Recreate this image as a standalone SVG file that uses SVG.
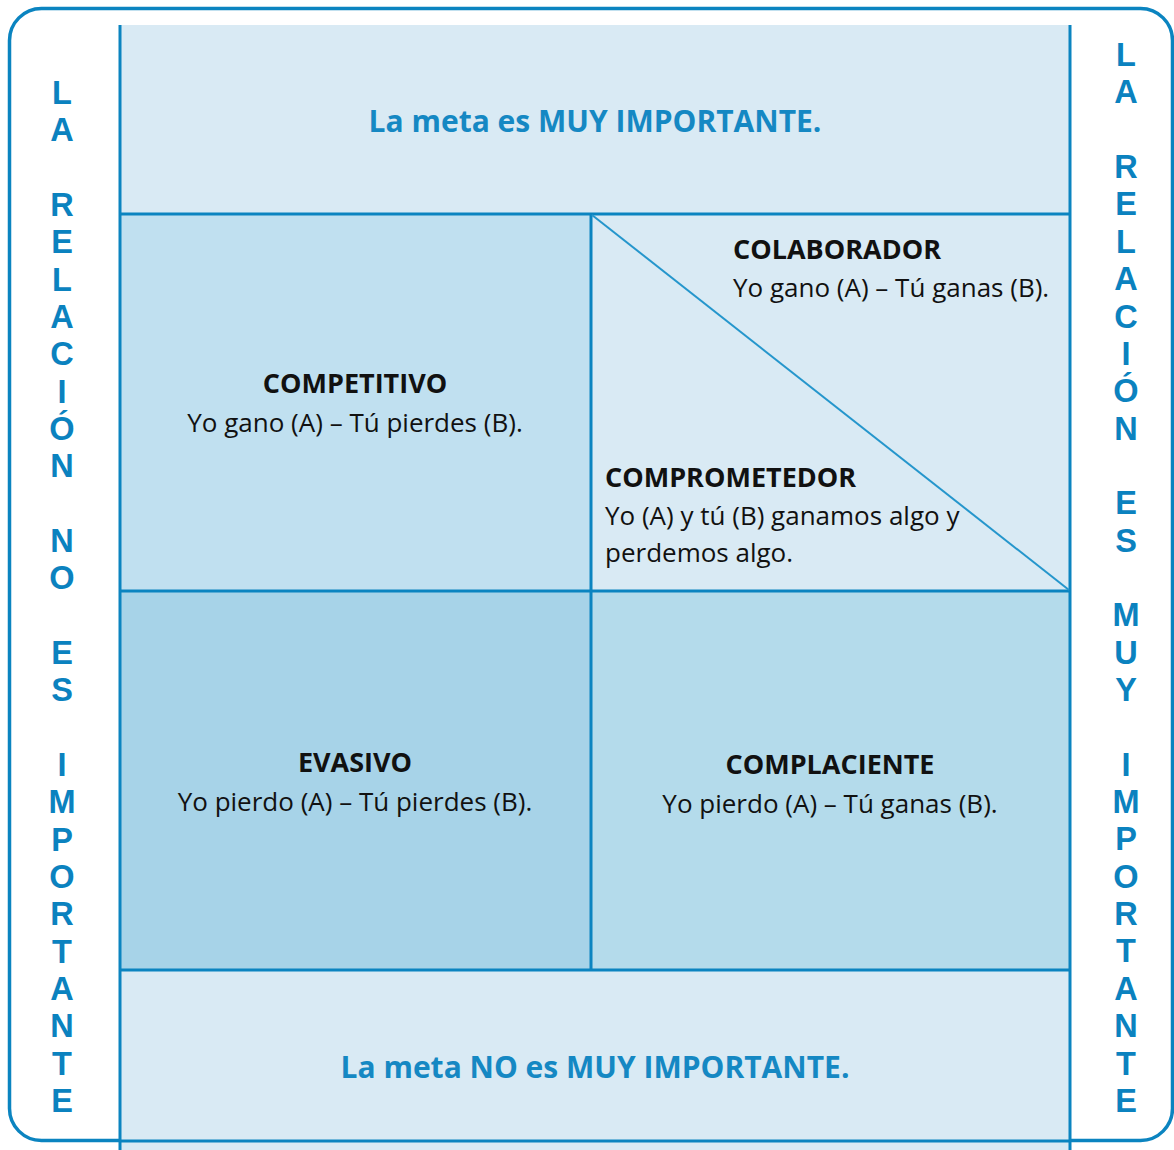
<svg xmlns="http://www.w3.org/2000/svg" width="1174" height="1150" viewBox="0 0 1174 1150">
<style>
.ttl{font-family:"Open Sans","Noto Sans",sans-serif;font-weight:700;font-size:30px;fill:#1588c3;text-anchor:middle}
.hd{font-family:"Open Sans","Noto Sans",sans-serif;font-weight:700;font-size:27px;fill:#111}
.tx{font-family:"Open Sans","Noto Sans",sans-serif;font-weight:400;font-size:26px;fill:#111}
.mid{text-anchor:middle}
.vl{font-family:"Liberation Sans",Arial,sans-serif;font-weight:700;font-size:32.5px;fill:#0b82bf;text-anchor:middle}
.ln{stroke:#0b84c0;stroke-width:3;fill:none}
</style>
<rect width="1174" height="1150" fill="#ffffff"/>
<rect x="9.5" y="8.5" width="1163" height="1132" rx="32" fill="none" stroke="#0b84c0" stroke-width="3.5"/>
<g id="top-cell">
<rect x="120" y="25" width="950" height="189" fill="#d9eaf4"/>
<text class="ttl" x="595" y="132">La meta es MUY IMPORTANTE.</text>
</g>
<g id="competitivo">
<rect x="120" y="214" width="471" height="377" fill="#c0e0f0"/>
<text class="hd mid" x="355" y="393">COMPETITIVO</text>
<text class="tx mid" x="355" y="432">Yo gano (A) – Tú pierdes (B).</text>
</g>
<g id="colaborador">
<rect x="591" y="214" width="479" height="377" fill="#d9eaf4"/>
<text class="hd" x="733" y="259">COLABORADOR</text>
<text class="tx" x="733" y="297">Yo gano (A) – Tú ganas (B).</text>
</g>
<g id="comprometedor">
<text class="hd" x="605" y="487">COMPROMETEDOR</text>
<text class="tx" x="605" y="525">Yo (A) y tú (B) ganamos algo y</text>
<text class="tx" x="605" y="562">perdemos algo.</text>
</g>
<g id="evasivo">
<rect x="120" y="591" width="471" height="379" fill="#a7d3e8"/>
<text class="hd mid" x="355" y="772">EVASIVO</text>
<text class="tx mid" x="355" y="811">Yo pierdo (A) – Tú pierdes (B).</text>
</g>
<g id="complaciente">
<rect x="591" y="591" width="479" height="379" fill="#b4dbeb"/>
<text class="hd mid" x="830" y="774">COMPLACIENTE</text>
<text class="tx mid" x="830" y="813">Yo pierdo (A) – Tú ganas (B).</text>
</g>
<g id="bottom-cell">
<rect x="120" y="970" width="950" height="180" fill="#d9eaf4"/>
<text class="ttl" x="595" y="1078">La meta NO es MUY IMPORTANTE.</text>
</g>
<g id="connectors">
<line class="ln" x1="120" y1="214" x2="1070" y2="214"/>
<line class="ln" x1="120" y1="591" x2="1070" y2="591"/>
<line class="ln" x1="120" y1="970" x2="1070" y2="970"/>
<line class="ln" x1="120" y1="1141" x2="1070" y2="1141"/>
<line class="ln" x1="120" y1="25" x2="120" y2="1150"/>
<line class="ln" x1="1070" y1="25" x2="1070" y2="1150"/>
<line class="ln" x1="591" y1="214" x2="591" y2="970"/>
<line x1="592" y1="215" x2="1069" y2="590" stroke="#2596cc" stroke-width="2"/>
</g>
<g id="left-label">
<text class="vl"><tspan x="62" y="104">L</tspan><tspan x="62" y="141.3">A</tspan><tspan x="62" y="216">R</tspan><tspan x="62" y="253.3">E</tspan><tspan x="62" y="290.7">L</tspan><tspan x="62" y="328">A</tspan><tspan x="62" y="365.3">C</tspan><tspan x="62" y="402.7">I</tspan><tspan x="62" y="440">Ó</tspan><tspan x="62" y="477.3">N</tspan><tspan x="62" y="552">N</tspan><tspan x="62" y="589.3">O</tspan><tspan x="62" y="664">E</tspan><tspan x="62" y="701.3">S</tspan><tspan x="62" y="776">I</tspan><tspan x="62" y="813.3">M</tspan><tspan x="62" y="850.7">P</tspan><tspan x="62" y="888">O</tspan><tspan x="62" y="925.3">R</tspan><tspan x="62" y="962.7">T</tspan><tspan x="62" y="1000">A</tspan><tspan x="62" y="1037.3">N</tspan><tspan x="62" y="1074.7">T</tspan><tspan x="62" y="1112">E</tspan></text>
</g>
<g id="right-label">
<text class="vl"><tspan x="1126" y="66">L</tspan><tspan x="1126" y="103.4">A</tspan><tspan x="1126" y="178.1">R</tspan><tspan x="1126" y="215.4">E</tspan><tspan x="1126" y="252.8">L</tspan><tspan x="1126" y="290.1">A</tspan><tspan x="1126" y="327.5">C</tspan><tspan x="1126" y="364.8">I</tspan><tspan x="1126" y="402.2">Ó</tspan><tspan x="1126" y="439.5">N</tspan><tspan x="1126" y="514.2">E</tspan><tspan x="1126" y="551.6">S</tspan><tspan x="1126" y="626.3">M</tspan><tspan x="1126" y="663.6">U</tspan><tspan x="1126" y="701">Y</tspan><tspan x="1126" y="775.7">I</tspan><tspan x="1126" y="813">M</tspan><tspan x="1126" y="850.4">P</tspan><tspan x="1126" y="887.7">O</tspan><tspan x="1126" y="925.1">R</tspan><tspan x="1126" y="962.4">T</tspan><tspan x="1126" y="999.8">A</tspan><tspan x="1126" y="1037.1">N</tspan><tspan x="1126" y="1074.5">T</tspan><tspan x="1126" y="1112">E</tspan></text>
</g>
</svg>
